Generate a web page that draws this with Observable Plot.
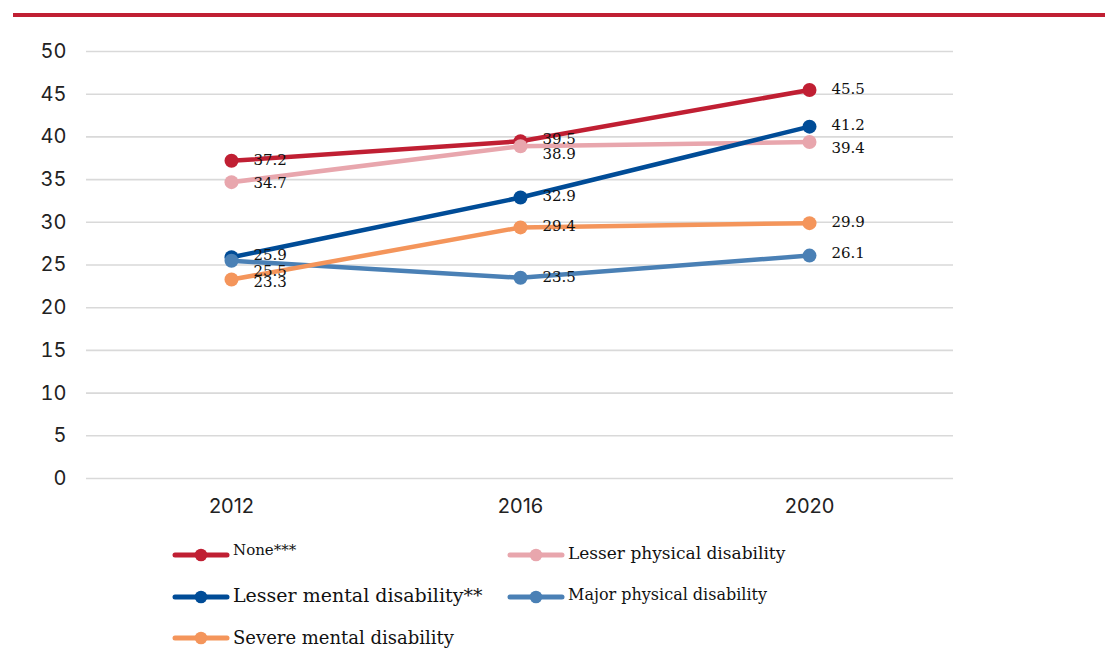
<!DOCTYPE html>
<html>
<head>
<meta charset="utf-8">
<script src="https://cdn.jsdelivr.net/npm/d3@7"></script>
<script src="https://cdn.jsdelivr.net/npm/@observablehq/plot@0.6"></script>
<style>
  html, body { margin: 0; padding: 0; background: #fff; }
  #wrap { position: relative; width: 1105px; height: 661px; overflow: hidden; }
  #topbar { position: absolute; left: 13px; top: 13px; width: 1092px; height: 4px; background: #C01F33; }
  #chart { position: absolute; left: 0; top: 0; }
  .leg { position: absolute; display: flex; align-items: center; font-family: "DejaVu Serif", serif; color: #111; white-space: nowrap; }
  .leg svg { margin-right: 2px; flex: none; }
</style>
</head>
<body>
<div id="wrap">
  <div id="chart"></div>
  <div id="topbar"></div>
  <div id="legend"></div>
</div>
<script>
// ---- data ----
const years = ["2012", "2016", "2020"];
const seriesNames = [
  "None***",
  "Lesser physical disability",
  "Lesser mental disability**",
  "Major physical disability",
  "Severe mental disability"
];
const noneValues = [37.2, 39.5, 45.5];
const lesserPhysicalValues = [34.7, 38.9, 39.4];
const lesserMentalValues = [25.9, 32.9, 41.2];
const majorPhysicalValues = [25.5, 23.5, 26.1];
const severeMentalValues = [23.3, 29.4, 29.9];
const yTicks = [0, 5, 10, 15, 20, 25, 30, 35, 40, 45, 50];

// ---- styles / layout ----
const colors = ["#C01F33", "#E8A6AD", "#004C97", "#4A80B5", "#F4955B"];
const labelDy = [
  [-1, -2, -1],
  [1, 8, 6],
  [-2, -1, -1],
  [10, -1, -2],
  [3, -1, -1]
];
const legendLayout = [
  {left: 171, top: 544, size: 15, lift: -5},
  {left: 506, top: 544, size: 17, lift: -2},
  {left: 171, top: 586, size: 19, lift: -2},
  {left: 506, top: 586, size: 16, lift: -3},
  {left: 171, top: 627, size: 18, lift: -1}
];

const allValues = [noneValues, lesserPhysicalValues, lesserMentalValues, majorPhysicalValues, severeMentalValues];
const data = [];
seriesNames.forEach((s, i) => {
  years.forEach((y, j) => {
    data.push({series: s, year: y, value: allValues[i][j], idx: i});
  });
});

const marks = [
  Plot.ruleY(yTicks, {stroke: "#d9d9d9", strokeWidth: 1.6}),
  Plot.axisY({ticks: yTicks, tickSize: 0, tickPadding: 20, fontSize: 20, fill: "#222", label: null}),
  Plot.axisX({tickSize: 0, tickPadding: 20, fontSize: 20, fill: "#222", label: null})
];
seriesNames.forEach((s, i) => {
  const d = data.filter(r => r.series === s);
  marks.push(Plot.line(d, {x: "year", y: "value", stroke: colors[i], strokeWidth: 4.5, strokeLinecap: "round"}));
  marks.push(Plot.dot(d, {x: "year", y: "value", fill: colors[i], r: 7}));
});
seriesNames.forEach((s, i) => {
  labelDy[i].forEach((dyv, j) => {
    const d = data.filter(r => r.series === s && r.year === years[j]);
    marks.push(Plot.text(d, {x: "year", y: "value", text: r => r.value.toFixed(1), dx: 22, dy: dyv,
      textAnchor: "start", fontFamily: "DejaVu Serif", fontSize: 15, fill: "#111"}));
  });
});

const chart = Plot.plot({
  width: 1105,
  height: 530,
  marginTop: 51,
  marginBottom: 52,
  marginLeft: 86,
  marginRight: 152,
  style: {fontFamily: "Inter, sans-serif", background: "transparent"},
  x: {type: "point", domain: years, padding: 0.5, label: null},
  y: {domain: [0, 50], label: null},
  marks
});
document.getElementById("chart").appendChild(chart);

// ---- legend ----
const legend = document.getElementById("legend");
seriesNames.forEach((s, i) => {
  const L = legendLayout[i];
  const div = document.createElement("div");
  div.className = "leg";
  div.style.left = L.left + "px";
  div.style.top = L.top + "px";
  div.style.height = "22px";
  div.innerHTML = `<svg width="60" height="14"><line x1="4" y1="7" x2="56" y2="7" stroke="${colors[i]}" stroke-width="5" stroke-linecap="round"/><circle cx="30" cy="7" r="6.3" fill="${colors[i]}"/></svg><span style="font-size:${L.size}px;position:relative;top:${L.lift}px">${s}</span>`;
  legend.appendChild(div);
});
</script>
</body>
</html>
